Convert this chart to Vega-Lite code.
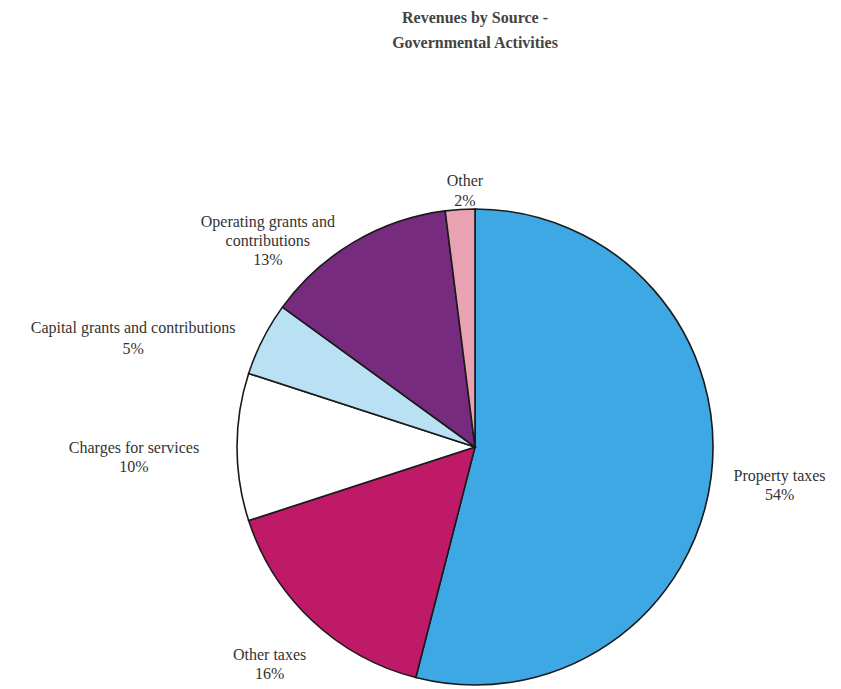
{
  "$schema": "https://vega.github.io/schema/vega-lite/v6.json",
  "autosize": "none",
  "width": 732,
  "height": 484,
  "padding": {"left": 109, "top": 205, "right": 0, "bottom": 0},
  "background": "white",
  "title": {
    "text": ["Revenues by Source -", "Governmental Activities"],
    "font": "Liberation Serif",
    "fontSize": 16,
    "fontWeight": "bold",
    "color": "#444444",
    "lineHeight": 25,
    "anchor": "middle",
    "offset": 122
  },
  "data": {
    "values": [
      {"source": "Property taxes", "pct": 54, "order": 1},
      {"source": "Other taxes", "pct": 16, "order": 2},
      {"source": "Charges for services", "pct": 10, "order": 3},
      {"source": "Capital grants and contributions", "pct": 5, "order": 4},
      {"source": "Operating grants and contributions", "pct": 13, "order": 5},
      {"source": "Other", "pct": 2, "order": 6}
    ]
  },
  "transform": [
    {"stack": "pct", "groupby": [], "sort": [{"field": "order", "order": "ascending"}], "as": ["t0", "t1"]},
    {"calculate": "(datum.t0 + datum.t1) / 2", "as": "tmid"}
  ],
  "layer": [
    {
      "mark": {"type": "arc", "outerRadius": 238, "stroke": "#1a1a1a", "strokeWidth": 1.6},
      "encoding": {
        "theta": {"field": "t0", "type": "quantitative", "scale": {"domain": [0, 100]}},
        "theta2": {"field": "t1"},
        "color": {
          "field": "source",
          "type": "nominal",
          "legend": null,
          "scale": {
            "domain": ["Property taxes", "Other taxes", "Charges for services", "Capital grants and contributions", "Operating grants and contributions", "Other"],
            "range": ["#3ea8e5", "#be1a68", "#ffffff", "#b9e1f3", "#772b7e", "#e8a2b2"]
          }
        }
      }
    },
    {
      "transform": [{"filter": "datum.source == 'Property taxes'"}, {"calculate": "[datum.source, datum.pct + '%']", "as": "label"}],
      "mark": {"type": "text", "radius": 307, "dy": -9, "font": "Liberation Serif", "fontSize": 16, "color": "#333333", "lineHeight": 19, "baseline": "middle"},
      "encoding": {"theta": {"field": "tmid", "type": "quantitative", "scale": {"domain": [0, 100]}}, "text": {"field": "label"}}
    },
    {
      "transform": [{"filter": "datum.source == 'Other taxes'"}, {"calculate": "[datum.source, datum.pct + '%']", "as": "label"}],
      "mark": {"type": "text", "radius": 300, "dy": -11, "font": "Liberation Serif", "fontSize": 16, "color": "#333333", "lineHeight": 19, "baseline": "middle"},
      "encoding": {"theta": {"field": "tmid", "type": "quantitative", "scale": {"domain": [0, 100]}}, "text": {"field": "label"}}
    },
    {
      "transform": [{"filter": "datum.source == 'Charges for services'"}, {"calculate": "[datum.source, datum.pct + '%']", "as": "label"}],
      "mark": {"type": "text", "radius": 341, "dy": 1, "font": "Liberation Serif", "fontSize": 16, "color": "#333333", "lineHeight": 19, "baseline": "middle"},
      "encoding": {"theta": {"field": "tmid", "type": "quantitative", "scale": {"domain": [0, 100]}}, "text": {"field": "label"}}
    },
    {
      "transform": [{"filter": "datum.source == 'Capital grants and contributions'"}, {"calculate": "[datum.source, datum.pct + '%']", "as": "label"}],
      "mark": {"type": "text", "radius": 359, "dx": -22, "dy": 44, "font": "Liberation Serif", "fontSize": 16, "color": "#333333", "lineHeight": 21, "baseline": "middle"},
      "encoding": {"theta": {"field": "tmid", "type": "quantitative", "scale": {"domain": [0, 100]}}, "text": {"field": "label"}}
    },
    {
      "transform": [{"filter": "datum.source == 'Operating grants and contributions'"}, {"calculate": "['Operating grants and', 'contributions', datum.pct + '%']", "as": "label"}],
      "mark": {"type": "text", "radius": 240, "dx": -85, "dy": -18, "font": "Liberation Serif", "fontSize": 16, "color": "#333333", "lineHeight": 19, "baseline": "middle"},
      "encoding": {"theta": {"field": "tmid", "type": "quantitative", "scale": {"domain": [0, 100]}}, "text": {"field": "label"}}
    },
    {
      "transform": [{"filter": "datum.source == 'Other'"}, {"calculate": "[datum.source, datum.pct + '%']", "as": "label"}],
      "mark": {"type": "text", "radius": 257, "dx": 6, "dy": -10, "font": "Liberation Serif", "fontSize": 16, "color": "#333333", "lineHeight": 20, "baseline": "middle"},
      "encoding": {"theta": {"field": "tmid", "type": "quantitative", "scale": {"domain": [0, 100]}}, "text": {"field": "label"}}
    }
  ]
}
